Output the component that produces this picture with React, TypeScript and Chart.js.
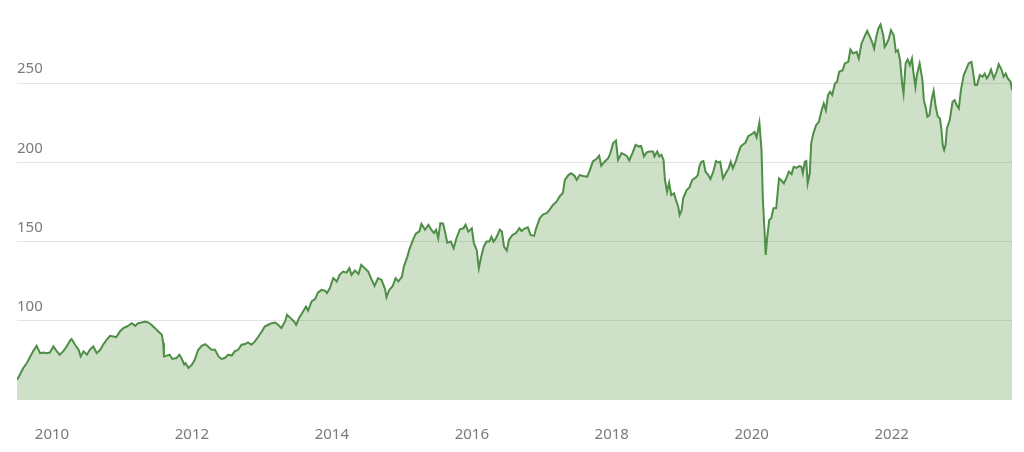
import React, { useEffect, useRef } from "react";
import { Chart, registerables } from "chart.js";

Chart.register(...registerables);

// Decimal-year dates of the readings
const dates = [
  2009.50, 2009.54, 2009.59, 2009.64, 2009.69, 2009.73, 2009.78, 2009.83, 2009.88, 2009.92, 2009.97,
  2010.02, 2010.07, 2010.11, 2010.16, 2010.21, 2010.26, 2010.28, 2010.33, 2010.38, 2010.41, 2010.45,
  2010.50, 2010.54, 2010.59, 2010.64, 2010.69, 2010.73, 2010.78, 2010.83, 2010.88, 2010.92, 2010.97,
  2011.02, 2011.07, 2011.11, 2011.14, 2011.19, 2011.23, 2011.28, 2011.33, 2011.38, 2011.42, 2011.47,
  2011.52, 2011.57, 2011.59, 2011.60, 2011.64, 2011.68, 2011.72, 2011.78, 2011.82, 2011.85, 2011.89,
  2011.91, 2011.95, 2012.00, 2012.04, 2012.09, 2012.14, 2012.19, 2012.23, 2012.28, 2012.33, 2012.38,
  2012.42, 2012.47, 2012.52, 2012.57, 2012.61, 2012.66, 2012.71, 2012.76, 2012.80, 2012.85, 2012.90,
  2012.95, 2013.00, 2013.04, 2013.09, 2013.14, 2013.19, 2013.23, 2013.28, 2013.33, 2013.36, 2013.41,
  2013.46, 2013.49, 2013.53, 2013.58, 2013.63, 2013.66, 2013.71, 2013.76, 2013.80, 2013.85, 2013.90,
  2013.93, 2013.97, 2014.02, 2014.07, 2014.11, 2014.16, 2014.21, 2014.25, 2014.28, 2014.33, 2014.38,
  2014.42, 2014.47, 2014.52, 2014.57, 2014.61, 2014.66, 2014.71, 2014.76, 2014.78, 2014.82, 2014.87,
  2014.91, 2014.95, 2015.00, 2015.03, 2015.08, 2015.11, 2015.16, 2015.20, 2015.25, 2015.28, 2015.33,
  2015.38, 2015.42, 2015.46, 2015.49, 2015.52, 2015.55, 2015.59, 2015.61, 2015.65, 2015.70, 2015.74,
  2015.78, 2015.83, 2015.88, 2015.91, 2015.95, 2016.00, 2016.03, 2016.07, 2016.10, 2016.14, 2016.17,
  2016.21, 2016.25, 2016.28, 2016.31, 2016.35, 2016.40, 2016.43, 2016.46, 2016.50, 2016.53, 2016.58,
  2016.63, 2016.68, 2016.71, 2016.76, 2016.80, 2016.84, 2016.89, 2016.92, 2016.97, 2017.02, 2017.07,
  2017.11, 2017.16, 2017.21, 2017.26, 2017.30, 2017.33, 2017.38, 2017.42, 2017.47, 2017.50, 2017.54,
  2017.59, 2017.65, 2017.69, 2017.73, 2017.78, 2017.82, 2017.85, 2017.90, 2017.95, 2017.98, 2018.02,
  2018.06, 2018.09, 2018.14, 2018.19, 2018.22, 2018.25, 2018.30, 2018.34, 2018.39, 2018.42, 2018.46,
  2018.50, 2018.54, 2018.59, 2018.61, 2018.65, 2018.68, 2018.71, 2018.74, 2018.76, 2018.79, 2018.82,
  2018.85, 2018.89, 2018.91, 2018.95, 2018.97, 2019.00, 2019.02, 2019.07, 2019.11, 2019.15, 2019.20,
  2019.23, 2019.25, 2019.28, 2019.31, 2019.34, 2019.38, 2019.41, 2019.45, 2019.49, 2019.52, 2019.55,
  2019.59, 2019.63, 2019.67, 2019.70, 2019.73, 2019.77, 2019.80, 2019.84, 2019.88, 2019.91, 2019.95,
  2020.00, 2020.04, 2020.07, 2020.11, 2020.14, 2020.16, 2020.19, 2020.20, 2020.22, 2020.25, 2020.28,
  2020.31, 2020.35, 2020.39, 2020.42, 2020.46, 2020.50, 2020.53, 2020.57, 2020.60, 2020.64, 2020.68,
  2020.71, 2020.73, 2020.76, 2020.78, 2020.80, 2020.83, 2020.85, 2020.88, 2020.92, 2020.96, 2021.00,
  2021.03, 2021.06, 2021.09, 2021.12, 2021.15, 2021.19, 2021.22, 2021.25, 2021.30, 2021.33, 2021.38,
  2021.41, 2021.45, 2021.50, 2021.53, 2021.57, 2021.61, 2021.65, 2021.69, 2021.72, 2021.75, 2021.78,
  2021.81, 2021.84, 2021.88, 2021.90, 2021.93, 2021.96, 2021.99, 2022.03, 2022.06, 2022.09, 2022.12,
  2022.15, 2022.17, 2022.20, 2022.23, 2022.26, 2022.29, 2022.31, 2022.34, 2022.36, 2022.40, 2022.44,
  2022.46, 2022.49, 2022.51, 2022.54, 2022.57, 2022.60, 2022.63, 2022.66, 2022.69, 2022.71, 2022.73,
  2022.75, 2022.77, 2022.79, 2022.83, 2022.87, 2022.90, 2022.93, 2022.96, 2022.99, 2023.03, 2023.07,
  2023.10, 2023.14, 2023.16, 2023.19, 2023.22, 2023.26, 2023.30, 2023.33, 2023.36, 2023.39, 2023.42,
  2023.46, 2023.50, 2023.53, 2023.57, 2023.60, 2023.63, 2023.66, 2023.70, 2023.72,
];

// Index value at each date
const prices = [
  62.8, 66.0, 70.2, 73.3, 77.5, 80.7, 84.2, 79.6, 80.0, 79.6, 80.0,
  83.8, 80.7, 78.6, 80.7, 83.8, 87.6, 88.5, 84.9, 81.7, 77.5, 80.7,
  78.6, 81.7, 83.8, 79.6, 81.7, 84.9, 88.0, 90.5, 90.1, 89.7, 93.3,
  95.4, 96.4, 97.5, 98.5, 96.8, 98.5, 98.9, 99.6, 98.9, 97.5, 95.4,
  93.3, 91.2, 86.0, 77.5, 78.0, 78.6, 75.9, 76.5, 78.6, 76.5, 72.3,
  73.3, 70.2, 72.3, 75.4, 81.7, 84.2, 85.3, 83.8, 81.7, 81.7, 77.5,
  75.9, 76.5, 78.6, 78.0, 80.7, 81.7, 84.9, 85.3, 86.3, 84.9, 87.0,
  90.1, 93.3, 96.4, 97.5, 98.5, 98.9, 97.5, 95.4, 99.6, 103.8, 101.7,
  99.6, 97.5, 101.7, 105.2, 109.0, 106.5, 112.2, 113.7, 117.8, 119.5, 119.1,
  117.5, 120.5, 127.0, 124.8, 129.0, 131.1, 130.4, 133.2, 129.0, 131.7, 129.6,
  135.3, 133.2, 131.1, 125.8, 122.0, 126.9, 125.8, 120.0, 114.9, 119.5, 122.0,
  126.9, 124.8, 127.7, 134.4, 140.7, 145.4, 151.2, 155.0, 156.5, 161.3, 157.5,
  160.6, 157.5, 155.4, 157.5, 152.1, 161.6, 161.3, 157.5, 149.3, 150.0, 145.8,
  152.1, 157.8, 158.4, 160.6, 156.3, 158.4, 149.0, 144.7, 133.2, 141.6, 146.8,
  150.0, 150.0, 153.1, 150.0, 152.5, 157.5, 156.3, 146.8, 144.3, 151.0, 154.2,
  155.3, 158.4, 156.7, 158.4, 159.0, 154.2, 153.6, 158.4, 164.7, 167.2, 167.9,
  170.0, 173.1, 175.2, 178.8, 180.5, 188.9, 192.0, 193.1, 191.4, 188.9, 192.0,
  191.4, 191.0, 195.4, 200.6, 202.1, 204.2, 197.9, 200.6, 202.7, 205.9, 212.2,
  213.8, 201.6, 205.9, 204.8, 203.8, 201.3, 206.3, 211.1, 210.0, 210.4, 203.8,
  206.3, 206.9, 206.9, 203.8, 206.9, 203.8, 204.8, 201.6, 188.9, 181.5, 187.2,
  179.4, 180.5, 177.3, 172.0, 166.8, 170.0, 177.3, 182.5, 184.2, 188.9, 190.5,
  192.0, 197.2, 200.4, 200.8, 194.1, 192.0, 189.5, 194.1, 200.8, 200.0, 200.4,
  189.9, 193.1, 196.2, 200.4, 196.2, 200.4, 204.6, 209.8, 211.5, 212.4, 216.6,
  217.8, 219.3, 215.8, 225.0, 207.8, 176.3, 151.0, 141.6, 152.1, 163.6, 164.7,
  171.0, 171.0, 189.9, 188.9, 186.8, 190.5, 194.1, 192.6, 197.2, 196.6, 197.7,
  197.2, 193.1, 200.4, 200.8, 186.8, 193.1, 212.0, 218.2, 223.5, 225.6, 233.0,
  237.2, 233.0, 242.5, 244.6, 242.5, 249.8, 250.9, 257.2, 258.2, 262.5, 263.5,
  271.3, 268.8, 269.8, 265.6, 275.1, 279.2, 283.0, 279.2, 276.1, 271.9, 279.2,
  284.5, 287.1, 280.3, 272.9, 275.1, 278.2, 283.5, 280.3, 269.8, 270.9, 264.6,
  249.8, 243.5, 262.5, 265.0, 261.3, 265.6, 257.2, 247.8, 255.1, 262.5, 252.0,
  239.3, 234.1, 228.8, 229.8, 239.3, 245.1, 235.1, 228.8, 227.7, 221.4, 211.0,
  207.8, 211.0, 221.4, 226.7, 238.2, 239.3, 236.1, 234.1, 245.6, 255.1, 259.2,
  262.5, 263.5, 258.2, 248.8, 248.8, 255.1, 254.1, 256.1, 253.0, 255.1, 258.6,
  253.0, 257.2, 262.0, 258.6, 254.1, 256.1, 253.0, 250.9, 245.6,
];

const yearTicks = [2010, 2012, 2014, 2016, 2018, 2020, 2022];
const valueTicks = [100, 150, 200, 250];
const axisMin = 50;
const axisMax = 300;

export default function App() {
  const ref = useRef<HTMLCanvasElement>(null);

  useEffect(() => {
    document.body.style.margin = "0";
    const canvas = ref.current;
    if (!canvas) return;
    const labelFont = { family: "'Noto Sans', Lato, sans-serif", size: 15 };
    const chart = new Chart(canvas, {
      type: "line",
      data: {
        datasets: [
          {
            data: dates.map((d, i) => ({ x: d, y: prices[i] })),
            borderColor: "#4f8e46",
            backgroundColor: "rgba(92,152,74,0.3)",
            fill: "start",
            borderWidth: 2,
            pointRadius: 0,
            tension: 0,
          },
        ],
      },
      options: {
        animation: false,
        responsive: false,
        maintainAspectRatio: false,
        layout: { padding: { left: 17, right: 12, top: 4, bottom: 6 } },
        plugins: { legend: { display: false }, tooltip: { enabled: false } },
        scales: {
          x: {
            type: "linear",
            min: dates[0],
            max: dates[dates.length - 1],
            grid: { display: false, drawTicks: false },
            border: { display: false },
            afterBuildTicks: (axis: any) => {
              axis.ticks = yearTicks.map((v) => ({ value: v }));
            },
            afterFit: (axis: any) => {
              axis.height = 46;
            },
            ticks: {
              padding: 26,
              autoSkip: false,
              maxRotation: 0,
              color: "#7a7a7a",
              font: labelFont,
              callback: (v: any) => String(v),
            },
          },
          y: {
            min: axisMin,
            max: axisMax,
            border: { display: false },
            afterBuildTicks: (axis: any) => {
              axis.ticks = valueTicks.map((v) => ({ value: v }));
            },
            afterFit: (axis: any) => {
              axis.paddingTop = 0;
              axis.paddingBottom = 0;
            },
            grid: {
              drawTicks: false,
              lineWidth: 1,
              color: "#e3e3e3",
            },
            ticks: {
              mirror: true,
              padding: 0,
              labelOffset: -14,
              color: "#7a7a7a",
              font: labelFont,
              callback: (v: any) => String(v),
            },
          },
        },
      },
    });
    return () => chart.destroy();
  }, []);

  return (
    <canvas ref={ref} width={1024} height={452} style={{ display: "block", width: 1024, height: 452 }} />
  );
}
